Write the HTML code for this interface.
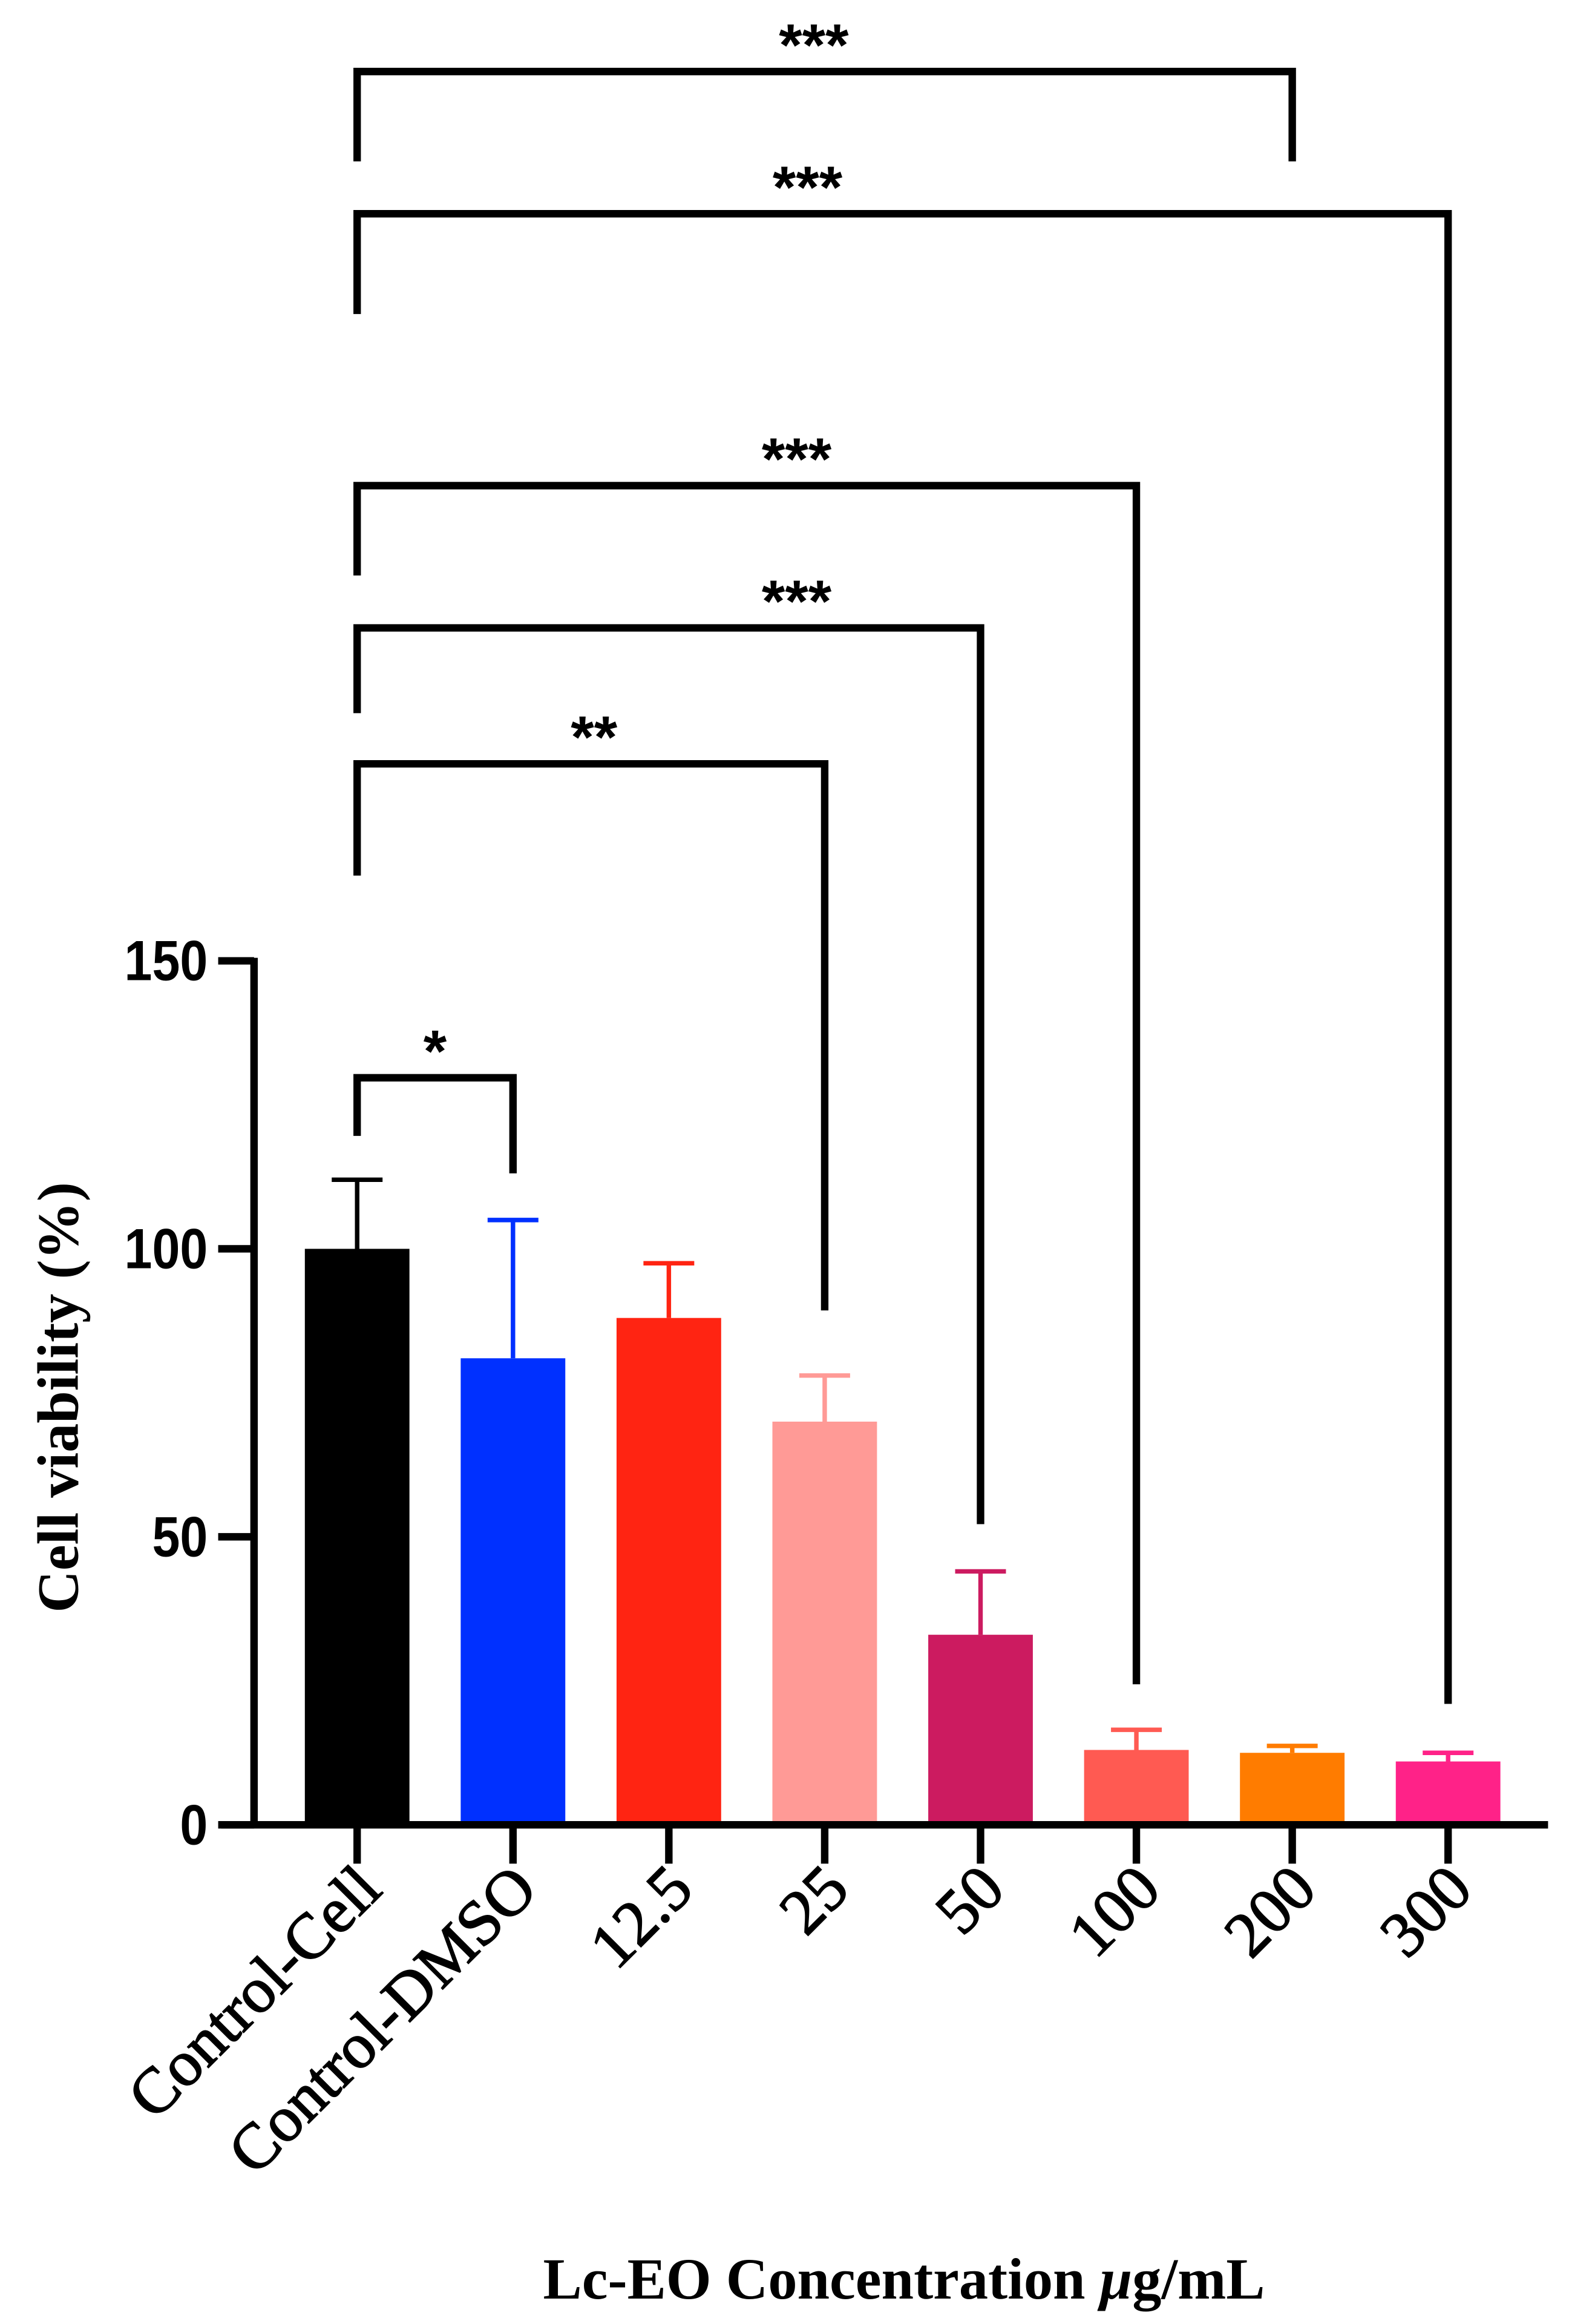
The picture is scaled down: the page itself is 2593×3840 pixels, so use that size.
<!DOCTYPE html>
<html><head><meta charset="utf-8"><style>
html,body{margin:0;padding:0;background:#fff;}
svg{display:block;}
</style></head><body>
<svg id="chart" width="2593" height="3840" viewBox="0 0 1050 1555" xmlns="http://www.w3.org/2000/svg">
<rect width="1050" height="1555" fill="#fff"/>
<g id="bars"></g>
<g id="axes"></g>
<g id="brackets"></g>
<text transform="translate(52,935) rotate(-90)" text-anchor="middle" font-family="Liberation Serif, serif" font-weight="bold" font-size="39">Cell viability (%)</text>
<text x="605" y="1538" text-anchor="middle" font-family="Liberation Serif, serif" font-weight="bold" font-size="39">Lc-EO Concentration <tspan font-style="italic">μ</tspan>g/mL</text>
</svg>
<script>
const categories = ["Control-Cell","Control-DMSO","12.5","25","50","100","200","300"];
const means = [100, 81, 88, 70, 33, 13, 12.5, 11];
const errors = [12, 24, 9.5, 8, 11, 3.5, 1.2, 1.5];
const colors = ["#000000","#0030ff","#ff2412","#ff9a96","#cc1b60","#ff5a52","#ff7c00","#ff2288"];
const yTicks = [0, 50, 100, 150];
const bracketLevels = [304.4, 279.7, 232.5, 207.8, 184.2, 129.7];
const bracketTo = [6, 7, 5, 4, 3, 1];
const bracketLeftEnd = [288.8, 262.3, 216.9, 193, 164.8, 119.6];
const bracketRightEnd = [288.8, 21, 24.4, 52.2, 89.3, 113.1];
const bracketLabels = ["***","***","***","***","**","*"];
const bracketLabelPos = [2.93, 2.89, 2.82, 2.82, 1.52, 0.5];

const NS = "http://www.w3.org/2000/svg";
const y0 = 1221, pxPerUnit = 192.7/50;
function yS(v){ return y0 - v*pxPerUnit; }
function xS(i){ return 239 + i*104.3; }
const barW = 70;
function mk(tag, attrs, parent){ const e=document.createElementNS(NS,tag); for(const k in attrs) e.setAttribute(k,attrs[k]); parent.appendChild(e); return e; }

const gb = document.getElementById('bars');
categories.forEach((c,i)=>{
  const top = yS(means[i]);
  const r = mk('rect',{x:xS(i)-barW/2,y:top,width:barW,height:y0-top,fill:colors[i]},gb);
  
  
  const et = yS(means[i]+errors[i]);
  const l = mk('path',{d:`M${xS(i)} ${top} V${et} M${xS(i)-17} ${et} H${xS(i)+17}`,stroke:colors[i],'stroke-width':3,fill:'none'},gb);
  
  
});

const ga = document.getElementById('axes');
mk('line',{x1:170,y1:yS(150)-2,x2:170,y2:y0+2,stroke:'#000','stroke-width':5},ga);
mk('line',{x1:148,y1:y0,x2:1036,y2:y0,stroke:'#000','stroke-width':5},ga);
yTicks.forEach(t=>{
  mk('line',{x1:146,y1:yS(t),x2:170,y2:yS(t),stroke:'#000','stroke-width':5},ga);
  const tx = mk('text',{x:139,y:yS(t)+13,'text-anchor':'end','font-family':'Liberation Sans, sans-serif','font-weight':'bold','font-size':38,transform:`translate(139 0) scale(0.88 1) translate(-139 0)`},ga);
  tx.textContent = t;
  
  
});
categories.forEach((c,i)=>{
  mk('line',{x1:xS(i),y1:y0,x2:xS(i),y2:1247,stroke:'#000','stroke-width':5},ga);
  const tx = mk('text',{x:0,y:0,'text-anchor':'end','font-family':'Liberation Serif, serif','font-size':43,'stroke':'#000','stroke-width':0.8,transform:`translate(${xS(i)+18},${1266}) rotate(-45)`},ga);
  tx.textContent = c;
  
  
});

const gk = document.getElementById('brackets');
bracketLevels.forEach((lv,k)=>{
  const x1 = xS(0), x2 = xS(bracketTo[k]), y = yS(lv);
  const p = mk('path',{d:`M${x1} ${yS(bracketLeftEnd[k])} V${y} H${x2} V${yS(bracketRightEnd[k])}`,stroke:'#000','stroke-width':5,fill:'none'},gk);
  
  
  const t = mk('text',{x:xS(bracketLabelPos[k]),y:y-4,'text-anchor':'middle','font-family':'Liberation Sans, sans-serif','font-weight':'bold','font-size':40},gk);
  t.textContent = bracketLabels[k];
  
  
});
</script>
</body></html>
